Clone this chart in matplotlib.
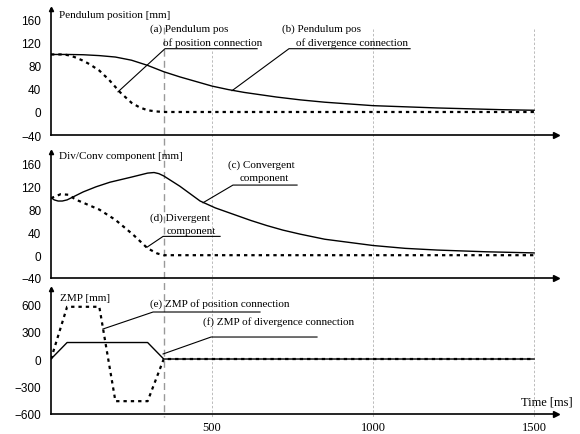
import matplotlib
matplotlib.use("Agg")
import matplotlib.pyplot as plt

# time axis [ms]
t_pos_pend = [0, 40, 60, 80, 100, 120, 150, 180, 215, 250, 275, 300, 325, 350, 1500]
pos_pend = [100, 100, 98, 94, 89, 83, 72, 56, 34, 16, 8, 3, 1, 0, 0]

t_div_pend = [0, 50, 100, 150, 200, 250, 300, 350, 400, 450, 500, 550, 600,
              650, 700, 775, 850, 900, 1000, 1100, 1200, 1300, 1400, 1500]
div_pend = [100, 100, 99.5, 98, 95.5, 90, 81, 70, 61, 53, 45, 39, 34,
            30, 26, 21, 17, 15, 11, 9, 7, 5.5, 4, 3]

t_conv = [0, 10, 22, 35, 50, 75, 100, 140, 183, 250, 300, 320, 335, 350,
          400, 463, 510, 565, 620, 670, 720, 773, 850, 1000, 1100, 1200,
          1350, 1500]
conv = [101, 97, 95, 95, 97, 104, 111, 120, 128, 137, 144, 145, 143, 139,
        121, 95, 83, 72, 61, 52, 44, 37, 28, 17, 12, 9, 6, 4]

t_diverg = [0, 30, 55, 75, 150, 200, 255, 300, 330, 350, 1500]
diverg = [100, 107, 106, 98, 80, 62, 36, 12, 3, 0, 0]

t_zmp_pos = [0, 50, 150, 200, 300, 350, 1500]
zmp_pos = [0, 570, 570, -460, -460, 0, 0]

t_zmp_div = [0, 50, 300, 350, 1500]
zmp_div = [0, 180, 180, 0, 0]

xticks = [500, 1000, 1500]
vlines_light = [500, 1000, 1500]
vline_dark = 350

serif = "Liberation Serif"
sans = "Liberation Sans"
dots = (0, (1.5, 1.8))

fig = plt.figure(figsize=(5.8, 4.35), dpi=100)
L, W = 51 / 580, 505 / 580
XMAX = 1568

# overlay for the vertical guide lines, in pixel rows
ov = fig.add_axes([L, 0, W, 1], zorder=0)
ov.set_xlim(0, XMAX)
ov.set_ylim(435, 0)
ov.axis("off")
ov.vlines(vline_dark, 28, 418, colors="#999999", linestyles=(0, (5, 3)), lw=1.0)
ov.vlines(vlines_light[0], 52, 418, colors="#bbbbbb", linestyles=(0, (2.5, 2)), lw=0.7)
ov.vlines(vlines_light[1:], 30, 418, colors="#bbbbbb", linestyles=(0, (2.5, 2)), lw=0.7)


def make_panel(rect, ylim, yticks):
    ax = fig.add_axes(rect, zorder=1)
    ax.patch.set_alpha(0)
    ax.set_xlim(0, XMAX)
    ax.set_ylim(*ylim)
    ax.set_yticks(yticks)
    ax.set_yticklabels([str(v).replace("-", "\u2212") for v in yticks],
                       fontfamily=sans, fontsize=8.5)
    ax.tick_params(length=0, pad=7)
    for s in ("top", "right"):
        ax.spines[s].set_visible(False)
    for s in ("left", "bottom"):
        ax.spines[s].set_linewidth(1.2)
    ax.plot(1, 0, ">k", ms=4, transform=ax.transAxes, clip_on=False)
    ax.plot(0, 1, "^k", ms=3, transform=ax.transAxes, clip_on=False)
    ax.set_xticks([])
    return ax


def label(ax, p0, p1, xend, lines):
    ax.plot([p0[0], p1[0], xend], [p0[1], p1[1], p1[1]], color="k", lw=0.8,
            clip_on=False)
    for x, y, s, ha in lines:
        ax.text(x, y, s, fontfamily=serif, fontsize=8, ha=ha, va="center")


ax1 = make_panel([L, 1 - 136 / 435, W, 126 / 435], (-40, 179), [-40, 0, 40, 80, 120, 160])
ax1.plot(t_div_pend, div_pend, color="k", lw=1.0)
ax1.plot(t_pos_pend, pos_pend, color="k", lw=1.6, ls=dots)
ax1.text(25, 170, "Pendulum position [mm]", fontfamily=serif, fontsize=8, va="center")
label(ax1, (208, 35), (354, 110), 640,
      [(307, 146, "(a) Pendulum pos", "left"),
       (348, 122, "of position connection", "left")])
label(ax1, (562, 37), (739, 110), 1115,
      [(717, 146, "(b) Pendulum pos", "left"),
       (761, 122, "of divergence connection", "left")])

ax2 = make_panel([L, 1 - 279 / 435, W, 126 / 435], (-40, 181), [-40, 0, 40, 80, 120, 160])
ax2.plot(t_conv, conv, color="k", lw=1.0)
ax2.plot(t_diverg, diverg, color="k", lw=1.6, ls=dots)
ax2.text(25, 174, "Div/Conv component [mm]", fontfamily=serif, fontsize=8, va="center")
label(ax2, (472, 92), (565, 123), 764,
      [(652, 160, "(c) Convergent", "center"),
       (662, 137, "component", "center")])
label(ax2, (298, 14), (348, 33), 525,
      [(307, 67, "(d) Divergent", "left"),
       (360, 44, "component", "left")])

ax3 = make_panel([L, 1 - 415 / 435, W, 125 / 435], (-600, 764), [-600, -300, 0, 300, 600])
ax3.plot(t_zmp_div, zmp_div, color="k", lw=1.0)
ax3.plot(t_zmp_pos, zmp_pos, color="k", lw=1.6, ls=dots)
ax3.text(28, 676, "ZMP [mm]", fontfamily=serif, fontsize=8, va="center")
label(ax3, (161, 327), (317, 513), 649,
      [(307, 611, "(e) ZMP of position connection", "left")])
label(ax3, (348, 55), (497, 240), 826,
      [(472, 415, "(f) ZMP of divergence connection", "left")])
ax3.set_xticks(xticks)
ax3.set_xticklabels([str(v) for v in xticks], fontfamily=serif, fontsize=9)
ax3.tick_params(axis="x", pad=5)
ax3.text(1621, -469, "Time [ms]", fontfamily=serif, fontsize=9, ha="right",
         va="center", clip_on=False)

fig.savefig("out.png", dpi=100)
